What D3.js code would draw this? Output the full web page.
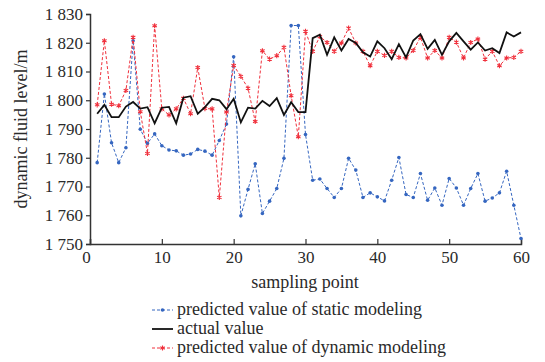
<!DOCTYPE html>
<html>
<head>
<meta charset="utf-8">
<script src="https://cdn.jsdelivr.net/npm/d3@7"></script>
<style>
  body { margin: 0; background: #fff; }
</style>
</head>
<body>
<div id="chart"></div>
<script>
// sampling points 1..60
var samples = d3.range(1, 61);

var staticModel = [
  1778.3, 1802.2, 1785.2, 1778.3, 1783.5, 1820.7, 1789.9, 1785.0, 1788.3, 1784.2,
  1782.7, 1782.4, 1780.9, 1781.3, 1782.9, 1782.3, 1780.9, 1786.0, 1791.7, 1815.1,
  1759.8, 1769.0, 1777.9, 1760.6, 1764.9, 1769.3, 1779.8, 1826.0, 1826.0, 1788.1,
  1772.2, 1772.6, 1769.3, 1766.2, 1769.3, 1779.8, 1775.7, 1766.2, 1767.8, 1766.4,
  1765.0, 1772.2, 1780.1, 1767.2, 1766.2, 1774.5, 1765.2, 1769.5, 1763.5, 1772.8,
  1769.5, 1763.5, 1769.3, 1774.5, 1764.9, 1766.0, 1767.8, 1775.3, 1763.5, 1751.9
];

var actual = [
  1795.3, 1798.4, 1794.1, 1794.1, 1797.8, 1799.4, 1797.1, 1797.6, 1792.0, 1797.4,
  1797.7, 1792.0, 1800.9, 1801.4, 1795.3, 1797.6, 1800.5, 1800.0, 1796.9, 1800.5,
  1792.3, 1797.4, 1797.1, 1799.8, 1798.0, 1800.7, 1794.9, 1799.3, 1795.9, 1795.9,
  1821.6, 1822.8, 1815.8, 1821.9, 1817.3, 1821.3, 1819.9, 1816.7, 1815.2, 1820.5,
  1818.1, 1814.3, 1819.5, 1814.9, 1820.8, 1823.0, 1817.9, 1821.0, 1815.8, 1820.5,
  1823.4, 1820.5, 1817.6, 1820.1, 1817.3, 1818.1, 1816.4, 1823.6, 1822.2, 1823.6
];

var dynamicModel = [
  1798.4, 1820.7, 1798.6, 1798.1, 1803.4, 1821.9, 1796.0, 1781.5, 1825.9, 1797.0,
  1794.9, 1797.0, 1800.7, 1795.3, 1811.4, 1797.1, 1797.0, 1766.2, 1795.9, 1812.1,
  1808.3, 1804.2, 1792.6, 1817.2, 1814.3, 1815.5, 1818.4, 1801.6, 1787.3, 1824.0,
  1817.0, 1822.2, 1820.1, 1817.0, 1819.9, 1825.1, 1819.9, 1817.0, 1812.0, 1817.0,
  1815.6, 1817.0, 1814.9, 1814.7, 1817.3, 1821.9, 1814.7, 1817.3, 1814.7, 1821.9,
  1820.2, 1814.7, 1820.1, 1821.3, 1814.3, 1817.0, 1812.0, 1814.7, 1814.9, 1817.0
];

var xTicks = [0, 10, 20, 30, 40, 50, 60];
var yTicks = [1750, 1760, 1770, 1780, 1790, 1800, 1810, 1820, 1830];
var legendLabels = ["predicted value of static modeling", "actual value", "predicted value of dynamic modeling"];

var blue = "#3566c0", red = "#f0303c", ink = "#2a2a2a";
var serif = "Liberation Serif";

var svg = d3.select("#chart").append("svg")
    .attr("width", 545)
    .attr("height", 362);

var x = d3.scaleLinear().domain([0, 60]).range([90, 521]);
var y = d3.scaleLinear().domain([1750, 1830]).range([244, 14]);

function fmt(v) {
    var s = String(v);
    return s.slice(0, 1) + " " + s.slice(1);
}

// Y axis (ticks outward)
var yAxis = svg.append("g")
    .attr("transform", "translate(90,0)")
    .call(d3.axisLeft(y).tickValues(yTicks).tickSize(4).tickFormat(fmt));
yAxis.select(".domain").attr("stroke", "#333").attr("stroke-width", 1.5);
yAxis.selectAll(".tick line").attr("stroke", "#333").attr("stroke-width", 1.2);
yAxis.selectAll(".tick text")
    .attr("x", -7)
    .attr("font-family", serif)
    .attr("font-size", 17)
    .attr("fill", ink);

// X axis (ticks inward)
var xAxis = svg.append("g")
    .attr("transform", "translate(0,244)")
    .call(d3.axisBottom(x).tickValues(xTicks).tickSize(-5).tickFormat(d3.format("d")));
xAxis.select(".domain").attr("stroke", "#333").attr("stroke-width", 1.5);
xAxis.selectAll(".tick line").attr("stroke", "#333").attr("stroke-width", 1.2);
xAxis.selectAll(".tick text")
    .attr("y", 7)
    .attr("font-family", serif)
    .attr("font-size", 17)
    .attr("fill", ink);
xAxis.selectAll(".tick").filter(function (d) { return d === 0; })
    .select("text").attr("dx", -4);

// axis titles
svg.append("text")
    .attr("transform", "translate(27," + ((14 + 244) / 2) + ") rotate(-90)")
    .attr("text-anchor", "middle")
    .attr("font-family", serif)
    .attr("font-size", 18)
    .attr("fill", ink)
    .text("dynamic fluid level/m");

svg.append("text")
    .attr("x", 305)
    .attr("y", 288)
    .attr("text-anchor", "middle")
    .attr("font-family", serif)
    .attr("font-size", 18)
    .attr("fill", ink)
    .text("sampling point");

function lineOf(vals) {
    return d3.line()
        .x(function (d, i) { return x(samples[i]); })
        .y(function (d) { return y(d); })(vals);
}

// static model
svg.append("path")
    .attr("d", lineOf(staticModel))
    .attr("fill", "none")
    .attr("stroke", blue)
    .attr("stroke-width", 1)
    .attr("stroke-dasharray", "3,2");
svg.append("g").selectAll("circle")
    .data(staticModel)
    .join("circle")
    .attr("cx", function (d, i) { return x(samples[i]); })
    .attr("cy", function (d) { return y(d); })
    .attr("r", 1.8)
    .attr("fill", blue);

// dynamic model
svg.append("path")
    .attr("d", lineOf(dynamicModel))
    .attr("fill", "none")
    .attr("stroke", red)
    .attr("stroke-width", 1)
    .attr("stroke-dasharray", "3,2");
var star = d3.symbol().type(d3.symbolAsterisk).size(18);
svg.append("g").selectAll("path")
    .data(dynamicModel)
    .join("path")
    .attr("d", star)
    .attr("transform", function (d, i) { return "translate(" + x(samples[i]) + "," + y(d) + ")"; })
    .attr("fill", "none")
    .attr("stroke", red)
    .attr("stroke-width", 1.1);

// actual value
svg.append("path")
    .attr("d", lineOf(actual))
    .attr("fill", "none")
    .attr("stroke", "#111")
    .attr("stroke-width", 1.8);

// legend
var rowsY = [310, 329, 348];
legendLabels.forEach(function (label, k) {
    var g = svg.append("g").attr("transform", "translate(0," + rowsY[k] + ")");
    var ln = g.append("line")
        .attr("x1", 152).attr("x2", 173)
        .attr("y1", 0).attr("y2", 0);
    if (k === 0) {
        ln.attr("stroke", blue).attr("stroke-dasharray", "3,2");
        g.append("circle").attr("cx", 162.5).attr("cy", 0).attr("r", 1.8).attr("fill", blue);
    } else if (k === 1) {
        ln.attr("stroke", "#111").attr("stroke-width", 1.8);
    } else {
        ln.attr("stroke", red).attr("stroke-dasharray", "3,2");
        g.append("path").attr("d", star).attr("transform", "translate(162.5,0)")
            .attr("fill", "none").attr("stroke", red).attr("stroke-width", 1.1);
    }
    g.append("text")
        .attr("x", 177)
        .attr("y", 5)
        .attr("font-family", serif)
        .attr("font-size", 18)
        .attr("fill", ink)
        .text(label);
});
</script>
</body>
</html>
